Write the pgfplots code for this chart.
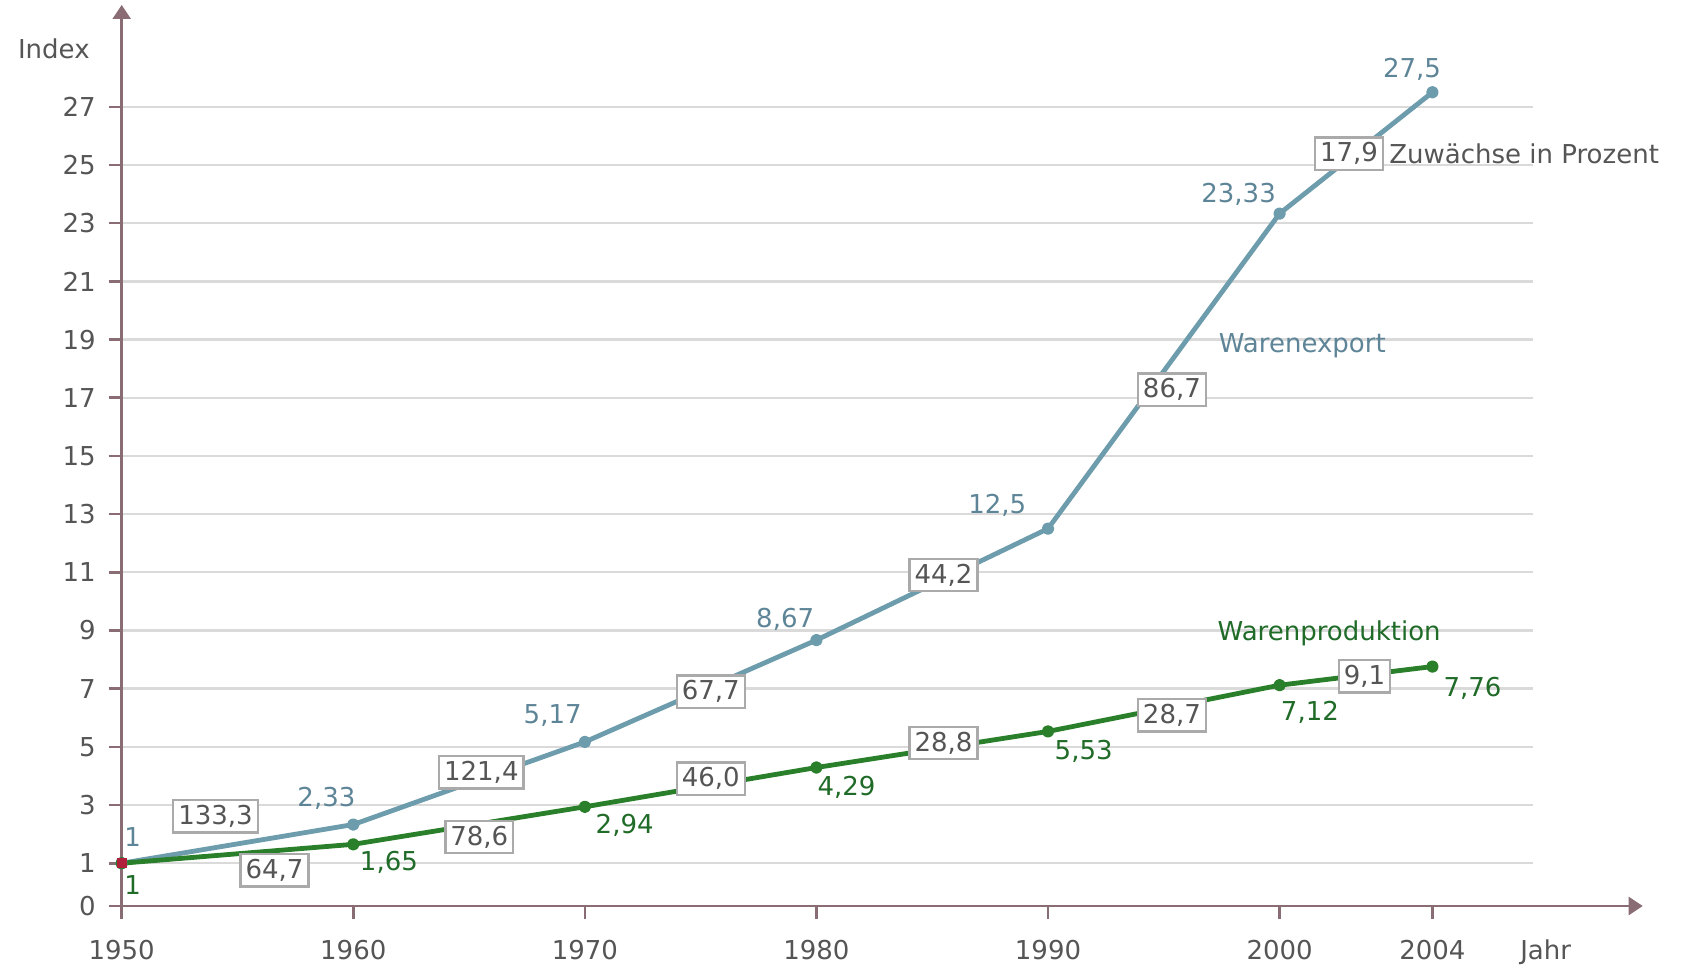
\documentclass[border=0pt]{standalone}
\usepackage{pgfplots}
\pgfplotsset{compat=1.18}
\usepackage{fontspec}
\setmainfont{DejaVu Sans}
\usetikzlibrary{arrows.meta}
\definecolor{axbrown}{HTML}{8A6D74}
\definecolor{gridgray}{HTML}{DADADA}
\definecolor{labgray}{HTML}{555555}
\definecolor{boxgray}{HTML}{AAAAAA}
\definecolor{expline}{HTML}{6D9CAD}
\definecolor{exptext}{HTML}{5D8597}
\definecolor{prodline}{HTML}{2A7F2A}
\definecolor{prodtext}{HTML}{1F6B27}
\definecolor{startred}{HTML}{B0203A}
\newcommand\lf{\fontsize{13}{15}\selectfont}
\begin{document}
\begin{tikzpicture}
\useasboundingbox (-60.85pt,-30.5pt) rectangle (783.65pt,453pt);
\begin{axis}[
  scale only axis, width=705.5pt, height=450.5pt,
  xmin=0, xmax=6.093, ymin=-0.47, ymax=30.5,
  clip=false,
  axis lines=left,
  axis line style={draw=axbrown, line width=1.3pt, -{Triangle[width=9pt,length=7pt]}},
  x axis line style={shorten >=-55pt},
  tick style={draw=axbrown, line width=1.3pt},
  tick align=outside, major tick length=6.5pt,
  xtick={0,1,2,3,4,5,5.66},
  xticklabels={1950,1960,1970,1980,1990,2000,2004},
  ytick={-0.47,1,3,5,7,9,11,13,15,17,19,21,23,25,27},
  yticklabels={0,1,3,5,7,9,11,13,15,17,19,21,23,25,27},
  xticklabel style={font=\lf, text=labgray, yshift=-7pt},
  yticklabel style={font=\lf, text=labgray, xshift=-3pt},
  ymajorgrids, grid style={draw=gridgray, line width=1.2pt},
]
\addplot[color=expline, line width=2.4pt, line join=round, mark=*, mark size=1.9pt]
  coordinates {(0,1) (1,2.33) (2,5.17) (3,8.67) (4,12.5) (5,23.33) (5.66,27.5)};
\addplot[color=prodline, line width=2.4pt, line join=round, mark=*, mark size=1.9pt]
  coordinates {(0,1) (1,1.65) (2,2.94) (3,4.29) (4,5.53) (5,7.12) (5.66,7.76)};
\addplot[only marks, mark=square*, mark size=2.2pt, color=startred] coordinates {(0,1)};

% value labels export
\begin{scope}[every node/.style={font=\lf, text=exptext, inner sep=0pt}]
\node at (0.047,1.90) {1};
\node at (0.884,3.24) {2,33};
\node at (1.861,6.06) {5,17};
\node at (2.865,9.39) {8,67};
\node at (3.781,13.31) {12,5};
\node at (4.823,23.98) {23,33};
\node at (5.572,28.28) {27,5};
\node at (5.098,18.80) {Warenexport};
\end{scope}
% value labels production
\begin{scope}[every node/.style={font=\lf, text=prodtext, inner sep=0pt}]
\node at (0.047,0.24) {1};
\node at (1.154,1.02) {1,65};
\node at (2.172,2.31) {2,94};
\node at (3.130,3.61) {4,29};
\node at (4.154,4.83) {5,53};
\node at (5.131,6.20) {7,12};
\node at (5.833,7.02) {7,76};
\node at (5.214,8.91) {Warenproduktion};
\end{scope}
% percentage boxes
\begin{scope}[every node/.style={font=\lf, text=labgray, draw=boxgray, line width=1.2pt, fill=white, inner sep=2.5pt}]
\node at (0.405,2.61) {133,3};
\node at (0.66,0.756) {64,7};
\node at (1.553,4.13) {121,4};
\node at (1.544,1.90) {78,6};
\node at (2.544,6.90) {67,7};
\node at (2.544,3.91) {46,0};
\node at (3.549,10.91) {44,2};
\node at (3.549,5.13) {28,8};
\node at (4.535,17.28) {86,7};
\node at (4.535,6.09) {28,7};
\node at (5.30,25.39) {17,9};
\node at (5.367,7.42) {9,1};
\end{scope}
\node[font=\lf, text=labgray, anchor=west, inner sep=0pt] at (5.472,25.39) {Zuwächse in Prozent};
\node[font=\lf, text=labgray, inner sep=0pt] at (-0.293,28.98) {Index};
\node[font=\lf, text=labgray, inner sep=0pt] at (6.149,-2.06) {Jahr};
\end{axis}
\end{tikzpicture}
\end{document}
